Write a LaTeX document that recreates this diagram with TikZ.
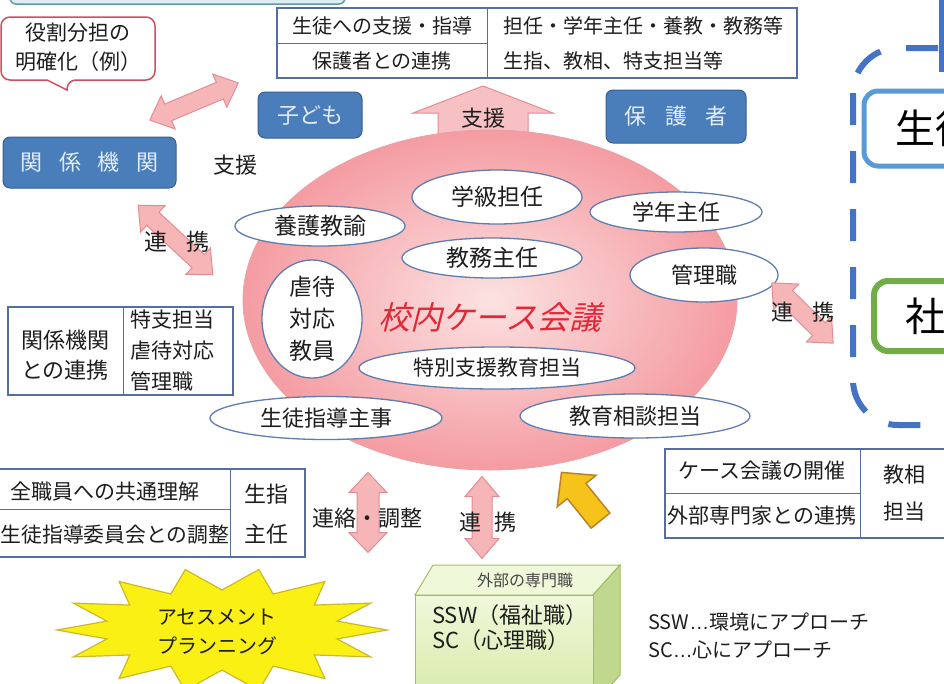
\documentclass[tikz,border=0pt]{standalone}
\usepackage{fontspec}
\setmainfont{Noto Sans CJK JP}
\newfontfamily\slantjp[FakeSlant=0.25]{Noto Sans CJK JP}
\newfontfamily\latinsans{Liberation Sans}
\newcommand\fsz[1]{\fontsize{#1pt}{#1pt}\selectfont}
\usetikzlibrary{shapes.geometric}
\definecolor{tblc}{RGB}{84,110,160}
\definecolor{boxblue}{RGB}{74,126,187}
\definecolor{boxbluedk}{RGB}{55,95,150}
\definecolor{boxtxt}{RGB}{228,236,248}
\definecolor{ellc}{RGB}{96,125,175}
\definecolor{txt}{RGB}{30,30,30}
\definecolor{pinkf}{RGB}{246,182,184}
\definecolor{pinkd}{RGB}{228,140,148}
\definecolor{calloutc}{RGB}{205,80,95}
\definecolor{dashblue}{RGB}{68,114,196}
\definecolor{ltblue}{RGB}{91,155,213}
\definecolor{grn}{RGB}{112,173,71}
\definecolor{yel}{RGB}{250,240,20}
\definecolor{yeld}{RGB}{205,185,40}
\definecolor{arrowyel}{RGB}{245,195,25}
\definecolor{arrowyeld}{RGB}{185,130,45}
\definecolor{boxga}{RGB}{240,248,218}
\definecolor{boxgb}{RGB}{214,234,168}
\definecolor{boxgc}{RGB}{192,216,142}
\definecolor{boxgd}{RGB}{160,190,100}
\definecolor{confred}{RGB}{225,40,55}
\definecolor{confin}{RGB}{252,226,226}
\definecolor{confout}{RGB}{244,156,162}
\definecolor{confline}{RGB}{235,160,166}
\newcommand\dblarrow[7]{%
  \coordinate (#1) at #2;
  \begin{scope}[shift={(#1)}, rotate=#3]
    \path[pinkarrow] (-#4,0) -- ({-#4+#7},#6) -- ({-#4+#7},#5) -- ({#4-#7},#5) -- ({#4-#7},#6) -- (#4,0)
      -- ({#4-#7},-#6) -- ({#4-#7},-#5) -- ({-#4+#7},-#5) -- ({-#4+#7},-#6) -- cycle;
  \end{scope}}
\newcommand\sglarrow[8]{%
  \coordinate (#1) at #2;
  \begin{scope}[shift={(#1)}, rotate=#3]
    \path[#8] (-#4,#5) -- ({#4-#7},#5) -- ({#4-#7},#6) -- (#4,0) -- ({#4-#7},-#6) -- ({#4-#7},-#5) -- (-#4,-#5) -- cycle;
  \end{scope}}
\begin{document}
\begin{tikzpicture}[x=1pt,y=-1pt,
  lbl/.style={text=txt, inner sep=0pt, font=\fsz{21}},
  tbl/.style={draw=tblc, line width=1.6pt, fill=white},
  tline/.style={draw=tblc, line width=0.8pt},
  bluebox/.style={rectangle, rounded corners=7pt, fill=boxblue, draw=boxbluedk, line width=1pt, text=boxtxt, font=\fsz{22}, inner sep=0pt},
  ell/.style={ellipse, draw=ellc, line width=1.3pt, fill=white, inner sep=0pt},
  pinkarrow/.style={fill=pinkf, draw=pinkd, line width=1pt},
  yarrow/.style={fill=arrowyel, draw=arrowyeld, line width=1.5pt},
  shienarrow/.style={fill=pinkf!85!white, draw=pinkd, line width=1pt}]
\useasboundingbox (0,0) rectangle (944,683);
\clip (0,0) rectangle (944,683);
\fill[white] (0,0) rectangle (944,683);

% top strip (cut box)
\path[fill={rgb,255:red,222;green,236;blue,243}, draw={rgb,255:red,100;green,150;blue,170}, line width=1.5pt, rounded corners=6pt] (10,-30) rectangle (345,4);

% callout
\draw[calloutc, line width=1.5pt, fill=white, rounded corners=9pt] (1,17) -- (155,17) -- (155,80) -- (67,80) [sharp corners] -- (67,90) -- (47,80) [rounded corners=9pt] -- (1,80) -- cycle;
\node[lbl, align=center, font=\fontsize{21pt}{29pt}\selectfont] (callout) at (78,47) {役割分担の\\明確化（例）};

% top table
\draw[tbl] (277,8) rectangle (797,78);
\draw[tline] (487,8) -- (487,78);
\draw[tline] (277,43) -- (487,43);
\node[lbl, font=\fsz{20}] (t1a) at (382,26) {生徒への支援・指導};
\node[lbl, font=\fsz{20}] (t1b) at (382,61) {保護者との連携};
\node[lbl, font=\fsz{20}, anchor=west] (t1c) at (503,26) {担任・学年主任・養教・教務等};
\node[lbl, font=\fsz{20}, anchor=west] (t1d) at (503,61) {生指、教相、特支担当等};

% blue boxes
\node[bluebox, minimum width=104pt, minimum height=46pt] (kodomo) at (310,115) {子ども};
\node[bluebox, minimum width=140pt, minimum height=53pt] (hogo) at (676,116.5) {保\hspace{0.85em}護\hspace{0.85em}者};
\node[bluebox, minimum width=173pt, minimum height=51pt] (kankei) at (89.5,162.5) {関\hspace{0.75em}係\hspace{0.75em}機\hspace{0.75em}関};
\node[lbl, font=\fsz{22}] (shienL) at (235,165) {支援};

% 支援 up arrow
\sglarrow{shienA}{(483,124)}{90}{38}{45}{70}{27}{shienarrow}

% big conference ellipse
\node[ellipse, minimum width=494pt, minimum height=340pt, inner color=confin, outer color=confout, draw=confline, line width=0.8pt] (conf) at (490,300) {};
\node[lbl, font=\fsz{22}] (shienT) at (483,118) {支援};

% inner ellipses
\node[ell, minimum width=170pt, minimum height=54pt] (gakkyu) at (497,197) {};
\node[lbl, font=\fsz{23}] at (gakkyu) {学級担任};
\node[ell, minimum width=170pt, minimum height=40pt] (yogo) at (320,226) {};
\node[lbl, font=\fsz{23}] at (yogo) {養護教諭};
\node[ell, minimum width=172pt, minimum height=40pt] (gakunen) at (676,212) {};
\node[lbl, font=\fsz{22}] at (gakunen) {学年主任};
\node[ell, minimum width=180pt, minimum height=40pt] (kyomu) at (492,258) {};
\node[lbl, font=\fsz{23}] at (kyomu) {教務主任};
\node[ell, minimum width=148pt, minimum height=54pt] (kanri) at (704,275) {};
\node[lbl, font=\fsz{22}] at (kanri) {管理職};
\node[ell, minimum width=100pt, minimum height=118pt] (gyaku) at (312,319) {};
\node[lbl, align=center, font=\fontsize{23pt}{32pt}\selectfont] at (gyaku) {虐待\\対応\\教員};
\node[ell, minimum width=276pt, minimum height=42pt] (tokubetsu) at (497,368) {};
\node[lbl, font=\fsz{21}] at (tokubetsu) {特別支援教育担当};
\node[ell, minimum width=232pt, minimum height=43pt] (seito) at (326,418) {};
\node[lbl, font=\fsz{22}] at (seito) {生徒指導主事};
\node[ell, minimum width=230pt, minimum height=44pt] (kyoiku) at (635,416) {};
\node[lbl, font=\fsz{22}] at (kyoiku) {教育相談担当};
\node[text=confred, inner sep=0pt, font=\slantjp\fsz{32}] (title) at (490,317) {校内ケース会議};

% pink double arrows
\dblarrow{aA}{(194,101.5)}{22.8}{48}{9}{18}{20}
\dblarrow{aB}{(175.5,240)}{-43}{51}{9}{18}{20}
\dblarrow{aC}{(802.5,313)}{-44.5}{43}{9}{18}{20}
\dblarrow{aD}{(368,512.5)}{90}{40}{11}{19}{20}
\dblarrow{aE}{(482,517.5)}{90}{41}{10}{17}{20}

\node[lbl, font=\fsz{23}] (renB) at (177,242) {連\hspace{20pt}携};
\node[lbl, font=\fsz{22}] (renC) at (803,312) {連\hspace{19pt}携};
\node[lbl, font=\fsz{22}] (renD) at (367,518) {連絡・調整};
\node[lbl, font=\fsz{22}] (renE) at (488,522) {連\hspace{14pt}携};

% left table
\draw[tbl] (8,307) rectangle (233,395);
\draw[tline] (123,307) -- (123,395);
\node[lbl, align=center, font=\fontsize{22pt}{30pt}\selectfont] (rk1) at (65,355) {関係機関\\との連携};
\node[lbl, align=left, anchor=west, font=\fontsize{21pt}{31pt}\selectfont] (rk2) at (130,351) {特支担当\\虐待対応\\管理職};

% bottom-left table
\draw[tbl] (-5,469) rectangle (305,557);
\draw[tline] (230,469) -- (230,557);
\draw[tline] (-5,509) -- (230,509);
\node[lbl] (bl1) at (105,492) {全職員への共通理解};
\node[lbl, font=\fsz{20.8}] (bl2) at (115,535) {生徒指導委員会との調整};
\node[lbl, align=center, font=\fontsize{22pt}{40pt}\selectfont] (bl3) at (266,514) {生指\\主任};

% right-bottom table
\draw[tbl] (665,449) rectangle (980,538);
\draw[tline] (860,449) -- (860,538);
\draw[tline] (665,493) -- (860,493);
\node[lbl] (br1) at (762,471) {ケース会議の開催};
\node[lbl] (br2) at (762,516) {外部専門家との連携};
\node[lbl, align=center, font=\fontsize{21pt}{37pt}\selectfont] (br3) at (904,493) {教相\\担当};

% yellow arrow
\sglarrow{yA}{(581,496.5)}{129}{31}{12}{25}{24}{yarrow}

% starburst
\path[fill=yel, draw=yeld, line width=1.2pt] (387,630) \foreach \i in {1,...,27} { -- ({222+(165-47*mod(\i,2))*cos(\i*360/28)}, {630-(62-22*mod(\i,2))*sin(\i*360/28)}) } -- cycle;
\node[lbl, align=center, font=\fontsize{20pt}{29pt}\selectfont] (assess) at (217,632) {アセスメント\\プランニング};

% green 3D box
\path[fill=boxga, draw=boxgd, line width=1pt] (415,595) -- (433,565) -- (620,565) -- (593,595) -- cycle;
\path[fill=boxgc, draw=boxgd, line width=1pt] (593,595) -- (620,565) -- (620,675) -- (593,705) -- cycle;
\path[top color=boxga, bottom color=boxgb, draw=boxgd, line width=1pt] (415,595) rectangle (593,705);
\node[lbl, font=\fsz{16}, text={rgb,255:red,70;green,70;blue,70}] (gaibu) at (525,580) {外部の専門職};
\node[lbl, anchor=west, align=left, font=\fontsize{22pt}{25pt}\selectfont] (sswsc) at (432,628) {SSW（福祉職）\\SC（心理職）};

\node[lbl, anchor=west, align=left, font=\fontsize{20pt}{28pt}\selectfont] (desc) at (648,636) {SSW{\latinsans …}環境にアプローチ\\SC{\latinsans …}心にアプローチ};

% right dashed frame
\draw[dashblue, line width=6pt, dash pattern=on 32pt off 26pt, rounded corners=45pt] (853,48) rectangle (1150,425);
\draw[dashblue, line width=5pt] (941,0) -- (941,72);
\draw[ltblue, line width=5pt, fill=white, rounded corners=14pt] (864,91) rectangle (1100,166);
\node[anchor=west, font=\fsz{40}, text=black, inner sep=0pt] (sei) at (895,128) {生徒};
\draw[grn, line width=6pt, fill=white, rounded corners=14pt] (874,281) rectangle (1100,351);
\node[anchor=west, font=\fsz{40}, text=black, inner sep=0pt] (sha) at (905,316) {社};
\end{tikzpicture}
\end{document}
